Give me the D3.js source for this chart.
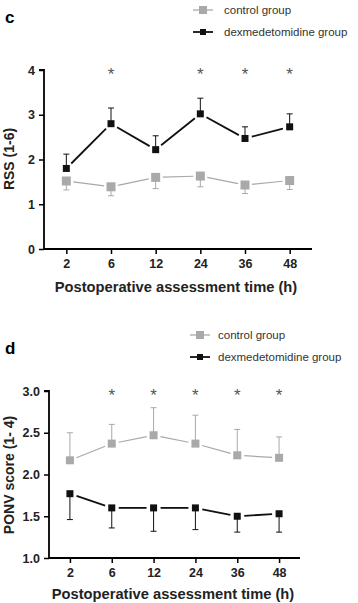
<!DOCTYPE html>
<html>
<head>
<meta charset="utf-8">
<script src="https://cdn.jsdelivr.net/npm/d3@7"></script>
<style>
  body { margin: 0; background: #fff; }
  svg { display: block; font-family: "Liberation Sans", Arial, sans-serif; }
</style>
</head>
<body>
<div id="chart"></div>
<script>
// Time points (categories)
const times = ["2", "6", "12", "24", "36", "48"];

// Panel c: RSS (1-6)
const rssControl = [1.52, 1.39, 1.60, 1.63, 1.43, 1.53];
const rssControlLow = [1.32, 1.19, 1.35, 1.39, 1.24, 1.33];
const rssDex = [1.80, 2.80, 2.22, 3.02, 2.47, 2.73];
const rssDexHigh = [2.12, 3.15, 2.53, 3.37, 2.73, 3.02];
const rssStars = ["6", "24", "36", "48"];
const rssTicks = [0, 1, 2, 3, 4];

// Panel d: PONV score (1-4)
const ponvControl = [2.17, 2.37, 2.47, 2.37, 2.23, 2.20];
const ponvControlHigh = [2.50, 2.60, 2.80, 2.71, 2.54, 2.45];
const ponvDex = [1.77, 1.60, 1.60, 1.60, 1.50, 1.53];
const ponvDexLow = [1.46, 1.36, 1.32, 1.34, 1.31, 1.31];
const ponvStars = ["6", "12", "24", "36", "48"];
const ponvTicks = [1.0, 1.5, 2.0, 2.5, 3.0];

const legendNames = ["control group", "dexmedetomidine group"];

const grey = "#a9a9a9";
const black = "#111";

const svg = d3.select("#chart").append("svg")
  .attr("width", 358)
  .attr("height", 603);

//draw one panel
function drawPanel(p) {
  const x = d3.scalePoint().domain(times).range([p.x0, p.x1]).padding(0.5);
  const y = d3.scaleLinear().domain(p.domain).range([p.yBottom, p.yTop]);

  // panel letter
  svg.append("text")
    .attr("x", 5).attr("y", p.letterY)
    .style("font-size", "17px").style("font-weight", "bold")
    .text(p.letter);

  // legend
  const lg = svg.append("g").attr("transform", `translate(${p.legX},${p.legY})`);
  [[grey, 8, 1.3], [black, 6, 1.8]].forEach(([c, s, w], i) => {
    const yy = i * p.legGap;
    lg.append("line").attr("x1", 0).attr("x2", 20).attr("y1", yy).attr("y2", yy)
      .attr("stroke", c).attr("stroke-width", w);
    lg.append("rect").attr("x", 10 - s / 2).attr("y", yy - s / 2).attr("width", s).attr("height", s)
      .attr("fill", c);
    lg.append("text").attr("x", p.legText).attr("y", yy + 4)
      .style("font-size", "11.5px").attr("fill", "#333")
      .text(legendNames[i]);
  });

  // y axis
  svg.append("g")
    .attr("transform", `translate(${p.x0},0)`)
    .call(d3.axisLeft(y).tickValues(p.ticks).tickFormat(p.fmt).tickSize(5).tickPadding(4))
    .call(g => g.select(".domain").attr("stroke-width", 1.8).attr("d", `M-5,${y(p.domain[1])}H0V${p.yBottom}`))
    .call(g => g.selectAll(".tick line").attr("stroke-width", 1.5))
    .call(g => g.selectAll(".tick text").style("font-size", "12.5px").style("font-weight", "bold").attr("fill", "#222"));

  // x axis
  svg.append("g")
    .attr("transform", `translate(0,${p.yBottom})`)
    .call(d3.axisBottom(x).tickSize(5).tickPadding(5))
    .call(g => g.select(".domain").attr("stroke-width", 1.8).attr("d", `M${p.x0},0H${p.x1}`))
    .call(g => g.selectAll(".tick line").attr("stroke-width", 1.5))
    .call(g => g.selectAll(".tick text").style("font-size", "12.5px").style("font-weight", "bold").attr("fill", "#222"));

  // axis titles
  svg.append("text")
    .attr("x", p.titleX).attr("y", p.titleY)
    .attr("text-anchor", "middle")
    .style("font-size", "14.7px").style("font-weight", "bold").attr("fill", "#222")
    .text("Postoperative assessment time (h)");

  svg.append("text")
    .attr("transform", `translate(${p.yLabelX},${p.yLabelY}) rotate(-90)`)
    .attr("text-anchor", "middle")
    .style("font-size", "14px").style("font-weight", "bold").attr("fill", "#222")
    .text(p.yLabel);

  // series
  p.series.forEach(s => {
    const g = svg.append("g");
    // error bars
    times.forEach((t, i) => {
      g.append("line")
        .attr("x1", x(t)).attr("x2", x(t))
        .attr("y1", y(s.values[i])).attr("y2", y(s.err[i]))
        .attr("stroke", s.color).attr("stroke-width", 1);
      g.append("line")
        .attr("x1", x(t) - 3).attr("x2", x(t) + 3)
        .attr("y1", y(s.err[i])).attr("y2", y(s.err[i]))
        .attr("stroke", s.color).attr("stroke-width", 1);
    });
    // connecting segments with gaps near markers
    d3.pairs(times.map((t, i) => [x(t), y(s.values[i])])).forEach(([a, b]) => {
      const dx = b[0] - a[0], dy = b[1] - a[1];
      const len = Math.hypot(dx, dy);
      const gap = 7;
      g.append("line")
        .attr("x1", a[0] + dx / len * gap).attr("y1", a[1] + dy / len * gap)
        .attr("x2", b[0] - dx / len * gap).attr("y2", b[1] - dy / len * gap)
        .attr("stroke", s.color).attr("stroke-width", s.width);
    });
    // markers
    g.selectAll("rect")
      .data(times)
      .join("rect")
      .attr("x", (d) => x(d) - s.size / 2)
      .attr("y", (d, i) => y(s.values[i]) - s.size / 2)
      .attr("width", s.size).attr("height", s.size)
      .attr("fill", s.color);
  });

  // significance stars
  svg.selectAll(null)
    .data(p.stars)
    .join("text")
    .attr("x", (d) => x(d))
    .attr("y", y(p.domain[1]) + 10)
    .attr("text-anchor", "middle")
    .style("font-size", "17px").attr("fill", "#555")
    .text("*");
}

drawPanel({
  letter: "c", letterY: 23,
  legX: 193, legY: 10, legGap: 22, legText: 31,
  x0: 44, x1: 312, yTop: 70, yBottom: 249,
  domain: [0, 4], ticks: rssTicks, fmt: d3.format("d"),
  titleX: 176, titleY: 292, yLabel: "RSS (1-6)", yLabelX: 14, yLabelY: 159,
  stars: rssStars,
  series: [
    { values: rssControl, err: rssControlLow, color: grey, size: 9, width: 1.2 },
    { values: rssDex, err: rssDexHigh, color: black, size: 7, width: 1.8 }
  ]
});

drawPanel({
  letter: "d", letterY: 354,
  legX: 190, legY: 335, legGap: 22, legText: 28,
  x0: 49, x1: 300, yTop: 391, yBottom: 558,
  domain: [1, 3], ticks: ponvTicks, fmt: d3.format(".1f"),
  titleX: 173, titleY: 599, yLabel: "PONV score (1- 4)", yLabelX: 14, yLabelY: 475,
  stars: ponvStars,
  series: [
    { values: ponvControl, err: ponvControlHigh, color: grey, size: 8, width: 1.2 },
    { values: ponvDex, err: ponvDexLow, color: black, size: 7, width: 1.8 }
  ]
});
</script>
</body>
</html>
